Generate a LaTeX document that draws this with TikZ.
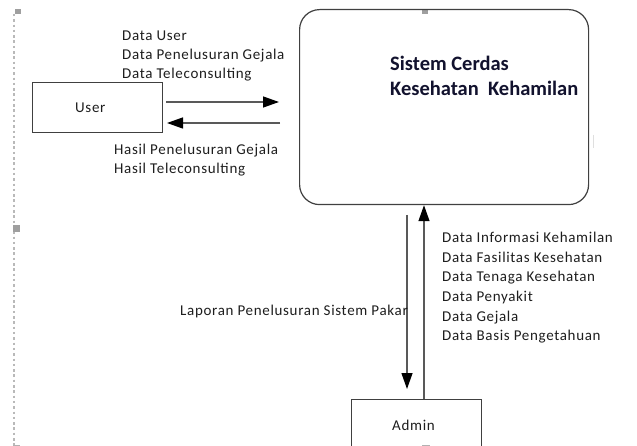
\documentclass[tikz,border=0pt]{standalone}
\usepackage{fontspec}
\setmainfont[LetterSpace=4.5]{Carlito}
\newfontfamily\titlefont{Carlito}
\usetikzlibrary{arrows.meta}
\definecolor{ink}{HTML}{1E1E1E}
\definecolor{navy}{HTML}{12122E}
\begin{document}
\begin{tikzpicture}[x=1pt,y=-1pt,
  box/.style={draw=black!75, line width=1.2pt, inner sep=0pt},
  lbl/.style={anchor=base west, inner sep=0pt, font=\fontsize{15}{19}\selectfont, text=ink},
  ttl/.style={anchor=base west, inner sep=0pt, font=\titlefont\bfseries\fontsize{20.5}{24}\selectfont, text=navy},
  arr/.style={draw=black!65, line width=1.3pt, -{Triangle[length=16pt,width=11pt,color=black,fill=black]}},
  handle/.style={fill=gray!75, draw=none}]
\fill[white] (0,0) rectangle (637,446);
\clip (0,0) rectangle (637,446);
% selection frame marks
\draw[gray!55, line width=1.3pt, dash pattern=on 2.5pt off 2.8pt] (14,14) -- (14,446);
\fill[handle] (15,9) rectangle (21,14);
\fill[handle] (13,225) rectangle (20,232);
\fill[handle] (422,9) rectangle (428,14);
\draw[gray!60, line width=1pt] (13,445) -- (20,445);
\draw[gray!25, line width=1pt] (593,135) -- (593,148);
% entities and process
\node[box, minimum width=130pt, minimum height=50pt, anchor=north west] (user) at (32,82) {};
\node[lbl] (usert) at (75,113) {User};
\node[box, rounded corners=20pt, minimum width=289pt, minimum height=195pt, anchor=north west] (sys) at (299,9) {};
\node[ttl] (t1) at (390,71) {Sistem Cerdas};
\node[ttl] (t2) at (390,96) {Kesehatan\ \ Kehamilan};
\node[box, minimum width=130pt, minimum height=60pt, anchor=north west] (admin) at (351,399) {};
\node[lbl] (admint) at (392,430) {Admin};
\draw[gray!60, line width=1pt] (422,445) -- (430,445);
% flows user <-> system
\coordinate (a1s) at (166,102);
\coordinate (a1e) at (279,102);
\draw[arr] (a1s) -- (a1e);
\coordinate (a2s) at (280,123);
\coordinate (a2e) at (167,123);
\draw[arr] (a2s) -- (a2e);
% flows system <-> admin
\coordinate (a3s) at (407,215);
\coordinate (a3e) at (407,389);
\draw[arr] (a3s) -- (a3e);
\coordinate (upx) at (424,0);
\draw[arr] (upx |- admin.north) -- (upx |- sys.south);
% labels
\node[lbl] (l1) at (122,41) {Data User};
\node[lbl] (l2) at (122,60) {Data Penelusuran Gejala};
\node[lbl] (l3) at (122,79) {Data Teleconsulting};
\node[lbl] (l4) at (114,155) {Hasil Penelusuran Gejala};
\node[lbl] (l5) at (114,174) {Hasil Teleconsulting};
\node[lbl] (l6) at (180,316) {Laporan Penelusuran Sistem Pakar};
\node[lbl] (r1) at (442,243) {Data Informasi Kehamilan};
\node[lbl] (r2) at (442,262.5) {Data Fasilitas Kesehatan};
\node[lbl] (r3) at (442,282) {Data Tenaga Kesehatan};
\node[lbl] (r4) at (442,301.5) {Data Penyakit};
\node[lbl] (r5) at (442,321) {Data Gejala};
\node[lbl] (r6) at (442,340.5) {Data Basis Pengetahuan};
\end{tikzpicture}
\end{document}
